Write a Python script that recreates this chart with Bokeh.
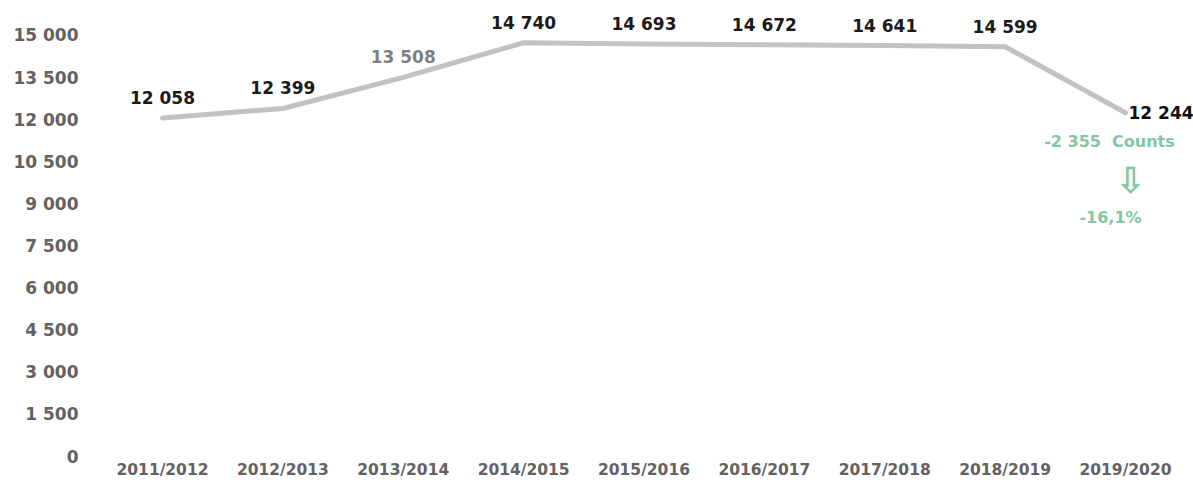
from bokeh.plotting import figure
from bokeh.models import ColumnDataSource, LabelSet, FactorRange, Range1d, FixedTicker
from bokeh.core.properties import value
from bokeh.embed import file_html
from bokeh.resources import INLINE

# ---- data ----
years = ["2011/2012", "2012/2013", "2013/2014", "2014/2015", "2015/2016",
         "2016/2017", "2017/2018", "2018/2019", "2019/2020"]
counts = [12058, 12399, 13508, 14740, 14693, 14672, 14641, 14599, 12244]
y_ticks = [0, 1500, 3000, 4500, 6000, 7500, 9000, 10500, 12000, 13500, 15000]
unit_word = "Counts"


def fmt(v):
    return f"{v:,}".replace(",", " ")


FONT = "DejaVu Sans"
GREEN = "#84c6a2"
AXIS_GREY = "#626262"

p = figure(width=1193, height=482, output_backend="svg", toolbar_location=None,
           x_range=FactorRange(*years, range_padding=0.065,
                               range_padding_units="absolute"),
           y_range=Range1d(0, 16245),
           min_border_left=94, min_border_right=0, min_border_top=0,
           min_border_bottom=26)
p.outline_line_color = None
p.background_fill_color = "white"
p.border_fill_color = "white"
p.xgrid.visible = False
p.ygrid.visible = False

# y axis
p.yaxis.ticker = FixedTicker(ticks=y_ticks)
p.yaxis.major_label_overrides = {t: fmt(t) for t in y_ticks}
p.yaxis.axis_line_color = None
p.yaxis.major_tick_line_color = None
p.yaxis.minor_tick_line_color = None
p.yaxis.major_tick_out = 0
p.yaxis.major_tick_in = 0
p.yaxis.major_label_standoff = 16
p.yaxis.major_label_text_font = FONT
p.yaxis.major_label_text_font_style = "bold"
p.yaxis.major_label_text_font_size = "17px"
p.yaxis.major_label_text_color = AXIS_GREY

# x axis
p.xaxis.axis_line_color = None
p.xaxis.major_tick_line_color = None
p.xaxis.minor_tick_line_color = None
p.xaxis.major_tick_out = 0
p.xaxis.major_tick_in = 0
p.xaxis.major_label_standoff = 4
p.xaxis.major_label_text_font = FONT
p.xaxis.major_label_text_font_style = "bold"
p.xaxis.major_label_text_font_size = "15.5px"
p.xaxis.major_label_text_color = AXIS_GREY

src = ColumnDataSource(dict(year=years, count=counts))
p.line(x="year", y="count", source=src, line_width=5, line_color="#c2c2c2",
       line_cap="round", line_join="round")

# value labels above the points (all but the last)
colors = ["#1a1a1a"] * (len(counts) - 1)
colors[2] = "#808080"
above = ColumnDataSource(dict(year=years[:-1], count=counts[:-1],
                              label=[fmt(c) for c in counts[:-1]], color=colors))
p.add_layout(LabelSet(x="year", y="count", text="label", source=above,
                      text_align="center", text_baseline="alphabetic",
                      y_offset=14, text_font=value(FONT), text_font_style="bold",
                      text_font_size="17px", text_color="color"))

# last value label to the right of the point
last = ColumnDataSource(dict(year=[years[-1]], count=[counts[-1]],
                             label=[fmt(counts[-1])]))
p.add_layout(LabelSet(x="year", y="count", text="label", source=last,
                      text_align="left", text_baseline="middle",
                      x_offset=3, y_offset=0, text_font=value(FONT),
                      text_font_style="bold", text_font_size="17px",
                      text_color="#111111"))

# change annotation
diff = counts[-1] - counts[-2]
pct = diff / counts[-2] * 100
diff_txt = "-" + fmt(abs(diff)) + " \u00a0" + unit_word
pct_txt = f"{pct:.1f}".replace(".", ",") + "%"

ann1 = ColumnDataSource(dict(year=[years[-1]], count=[counts[-1]], label=[diff_txt]))
p.add_layout(LabelSet(x="year", y="count", text="label", source=ann1,
                      text_align="center", text_baseline="middle",
                      x_offset=-16, y_offset=-29, text_font=value(FONT),
                      text_font_style="bold", text_font_size="16px",
                      text_color=GREEN))
ann2 = ColumnDataSource(dict(year=[years[-1]], count=[counts[-1]], label=["\u21e9"]))
p.add_layout(LabelSet(x="year", y="count", text="label", source=ann2,
                      text_align="center", text_baseline="middle",
                      x_offset=5, y_offset=-68, text_font=value(FONT),
                      text_font_style="bold", text_font_size="36px",
                      text_color=GREEN))
ann3 = ColumnDataSource(dict(year=[years[-1]], count=[counts[-1]], label=[pct_txt]))
p.add_layout(LabelSet(x="year", y="count", text="label", source=ann3,
                      text_align="center", text_baseline="middle",
                      x_offset=-15, y_offset=-105, text_font=value(FONT),
                      text_font_style="bold", text_font_size="16px",
                      text_color=GREEN))

open("out.html", "w").write(file_html(p, INLINE))
